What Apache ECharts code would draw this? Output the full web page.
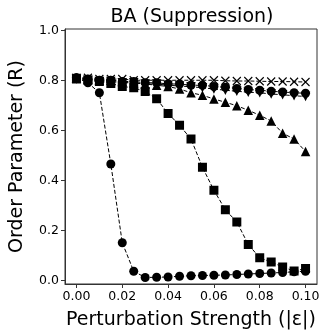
<!DOCTYPE html>
<html>
<head>
<meta charset="utf-8">
<script src="https://cdn.jsdelivr.net/npm/echarts@6/dist/echarts.min.js"></script>
<style>
  html, body { margin: 0; padding: 0; background: #fff; }
  #main { width: 327px; height: 336px; }
</style>
</head>
<body>
<div id="main"></div>
<script>
// perturbation strength |eps|
var xs = [0, 0.005, 0.01, 0.015, 0.02, 0.025, 0.03, 0.035, 0.04, 0.045, 0.05,
  0.055, 0.06, 0.065, 0.07, 0.075, 0.08, 0.085, 0.09, 0.095, 0.1];

// order parameter R, one list per curve
var fastCircle = [0.81, 0.79, 0.75, 0.465, 0.15, 0.036, 0.011, 0.012, 0.013, 0.016, 0.018,
  0.019, 0.02, 0.021, 0.023, 0.025, 0.027, 0.029, 0.031, 0.034, 0.036];
var square = [0.805, 0.8, 0.795, 0.787, 0.775, 0.77, 0.755, 0.726, 0.667, 0.62, 0.565,
  0.452, 0.36, 0.282, 0.233, 0.143, 0.09, 0.073, 0.053, 0.037, 0.047];
var triangle = [0.81, 0.805, 0.8, 0.8, 0.795, 0.79, 0.785, 0.78, 0.775, 0.765, 0.75,
  0.74, 0.725, 0.712, 0.698, 0.68, 0.66, 0.637, 0.588, 0.565, 0.515];
var midCircle = [0.81, 0.805, 0.8, 0.8, 0.795, 0.795, 0.79, 0.79, 0.785, 0.785, 0.78,
  0.78, 0.775, 0.772, 0.767, 0.763, 0.76, 0.756, 0.753, 0.75, 0.748];
var vDown = [0.805, 0.8, 0.795, 0.795, 0.79, 0.79, 0.785, 0.785, 0.78, 0.777, 0.774,
  0.77, 0.765, 0.76, 0.756, 0.752, 0.75, 0.745, 0.742, 0.738, 0.735];
var cross = [0.81, 0.81, 0.805, 0.805, 0.805, 0.8, 0.8, 0.8, 0.8, 0.8, 0.8,
  0.8, 0.8, 0.798, 0.797, 0.797, 0.796, 0.795, 0.795, 0.794, 0.793];

var xTicks = [0, 0.02, 0.04, 0.06, 0.08, 0.1];
var yTicks = [0, 0.2, 0.4, 0.6, 0.8, 1.0];

function pairs(vals) {
  return xs.map(function (x, i) { return [x, vals[i]]; });
}

var FONT = 'DejaVu Sans';

// 每条曲线：黑色虚线 + 标记
function mkSeries(vals, symbol, size, extra) {
  var s = {
    type: 'line',
    data: pairs(vals),
    symbol: symbol,
    symbolSize: size,
    showAllSymbol: true,
    lineStyle: { color: '#000', width: 1, type: [4, 2] },
    itemStyle: { color: '#000' },
    animation: false
  };
  for (var k in extra) s[k] = extra[k];
  return s;
}

var myChart = echarts.init(document.getElementById('main'));

var option = {
  backgroundColor: '#fff',
  title: {
    text: 'BA (Suppression)',
    left: 187,
    textAlign: 'center',
    top: 3,
    textStyle: { fontFamily: FONT, fontSize: 19, fontWeight: 'normal', color: '#000' }
  },
  grid: {
    left: 57.5,
    right: 10,
    top: 29,
    bottom: 52,
    show: true,
    borderColor: '#333',
    borderWidth: 1,
    containLabel: false
  },
  xAxis: {
    type: 'value',
    min: -0.005,
    max: 0.105,
    name: 'Perturbation Strength (|\u03b5|)',
    nameLocation: 'middle',
    nameGap: 27,
    nameTextStyle: { fontFamily: FONT, fontSize: 19, color: '#000' },
    axisLine: { show: true, onZero: false, lineStyle: { color: '#333', width: 1 } },
    axisTick: { show: true, length: 4, lineStyle: { color: '#333' }, customValues: xTicks },
    axisLabel: {
      customValues: xTicks,
      fontFamily: FONT, fontSize: 12.5, color: '#000', margin: 6,
      formatter: function (v) { return v.toFixed(2); }
    },
    splitLine: { show: false }
  },
  yAxis: {
    type: 'value',
    min: -0.015,
    max: 1.005,
    name: 'Order Parameter (R)',
    nameLocation: 'middle',
    nameGap: 38,
    nameTextStyle: { fontFamily: FONT, fontSize: 19, color: '#000' },
    axisLine: { show: true, onZero: false, lineStyle: { color: '#333', width: 1 } },
    axisTick: { show: true, length: 4, lineStyle: { color: '#333' }, customValues: yTicks },
    axisLabel: {
      customValues: yTicks,
      fontFamily: FONT, fontSize: 12.5, color: '#000', margin: 6,
      formatter: function (v) { return v.toFixed(1); }
    },
    splitLine: { show: false }
  },
  series: [
    mkSeries(fastCircle, 'circle', 9),
    mkSeries(square, 'rect', 9),
    mkSeries(triangle, 'triangle', 9.5),
    mkSeries(midCircle, 'circle', 9),
    mkSeries(vDown, 'triangle', 9.5, { symbolRotate: 180 }),
    mkSeries(cross, 'path://M0,0L10,10M10,0L0,10', 8, {
      itemStyle: { color: 'transparent', borderColor: '#000', borderWidth: 1.1 }
    })
  ]
};

myChart.setOption(option);
</script>
</body>
</html>
